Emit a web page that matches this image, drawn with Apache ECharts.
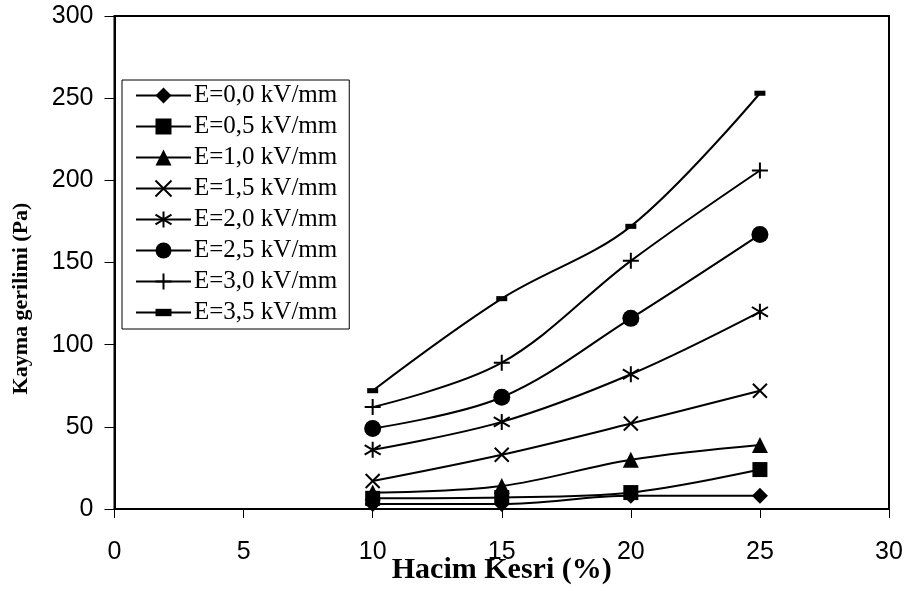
<!DOCTYPE html>
<html>
<head>
<meta charset="utf-8">
<script src="https://cdn.jsdelivr.net/npm/echarts@6/dist/echarts.min.js"></script>
<style>
  html, body { margin: 0; padding: 0; background: #fff; }
  #chart { width: 907px; height: 591px; }
</style>
</head>
<body>
<div id="chart"></div>
<script>
// volume fraction (%)
const hacimKesri = [10, 15, 20, 25];

const seriesNames = [
  "E=0,0 kV/mm", "E=0,5 kV/mm", "E=1,0 kV/mm", "E=1,5 kV/mm",
  "E=2,0 kV/mm", "E=2,5 kV/mm", "E=3,0 kV/mm", "E=3,5 kV/mm",
];

// shear stress (Pa)
const e00 = [3, 3, 8, 8];
const e05 = [6.5, 7, 10, 24];
const e10 = [10, 14, 30, 39];
const e15 = [17, 33, 52, 72];
const e20 = [36, 53, 82, 120];
const e25 = [49, 68, 116, 167];
const e30 = [62, 89, 151, 206];
const e35 = [72, 128, 172, 253];

const values = [e00, e05, e10, e15, e20, e25, e30, e35];

// the dash path carries two empty moves so its box stays square (legend draws it square)
const markers = [
  { symbol: "diamond", size: 16, stroke: false },
  { symbol: "rect", size: 15, stroke: false },
  { symbol: "triangle", size: 16, stroke: false },
  { symbol: "path://M0,0L10,10M10,0L0,10", size: 14, stroke: true },
  { symbol: "path://M5,0L5,10M0.8,2L9.2,8M0.8,8L9.2,2", size: 16, stroke: true },
  { symbol: "circle", size: 17, stroke: false },
  { symbol: "path://M5,0L5,10M0,5L10,5", size: 16, stroke: true },
  { symbol: "path://M0,0M10,10M0,2.7L10,2.7L10,7.3L0,7.3Z", size: 11, stroke: false },
];

const tickFont = "'Liberation Sans', Arial, sans-serif";
const serifFont = "'Liberation Serif', 'Times New Roman', serif";

const chart = echarts.init(document.getElementById("chart"));

const option = {
  animation: false,
  backgroundColor: "#fff",
  grid: {
    left: 114.5,
    right: 18,
    top: 16,
    bottom: 82,
    outerBoundsMode: "none",
    containLabel: false,
    show: true,
    borderColor: "#000",
    borderWidth: 2,
  },
  legend: {
    orient: "vertical",
    left: 122,
    top: 80,
    itemWidth: 55,
    itemHeight: 20,
    itemGap: 6,
    padding: [3, 12, 4, 13],
    borderColor: "#000",
    borderWidth: 1,
    backgroundColor: "#fff",
    textStyle: {
      fontFamily: serifFont,
      fontSize: 25,
      lineHeight: 20,
      color: "#000",
      padding: [0, 0, 0, -2],
    },
    data: seriesNames,
  },
  xAxis: {
    type: "value",
    min: 0,
    max: 30,
    interval: 5,
    name: "Hacim Kesri (%)",
    nameLocation: "middle",
    nameGap: 46,
    nameMoveOverlap: false,
    nameTextStyle: {
      fontFamily: serifFont,
      fontWeight: "bold",
      fontSize: 30,
      color: "#000",
    },
    axisLine: { lineStyle: { color: "#000", width: 2 } },
    axisTick: { lineStyle: { color: "#000", width: 1 }, length: 9 },
    axisLabel: {
      fontFamily: tickFont,
      fontSize: 25,
      color: "#000",
      margin: 31,
    },
    splitLine: { show: false },
  },
  yAxis: {
    type: "value",
    min: 0,
    max: 300,
    interval: 50,
    name: "Kayma gerilimi (Pa)",
    nameLocation: "middle",
    nameGap: 82,
    nameMoveOverlap: false,
    nameTextStyle: {
      fontFamily: serifFont,
      fontWeight: "bold",
      fontSize: 22,
      color: "#000",
      padding: [0, 72, 0, 0],
    },
    axisLine: { lineStyle: { color: "#000", width: 2 } },
    axisTick: { lineStyle: { color: "#000", width: 1 }, length: 10 },
    axisLabel: {
      fontFamily: tickFont,
      fontSize: 25,
      color: "#000",
      margin: 21,
    },
    splitLine: { show: false },
  },
  series: seriesNames.map((name, i) => ({
    name: name,
    type: "line",
    smooth: 0.35,
    data: hacimKesri.map((x, j) => [x, values[i][j]]),
    symbol: markers[i].symbol,
    symbolSize: markers[i].size,
    showAllSymbol: true,
    lineStyle: { color: "#000", width: 2 },
    itemStyle: {
      color: "#000",
      borderColor: "#000",
      borderWidth: markers[i].stroke ? 2 : 0,
    },
    emphasis: { disabled: true },
  })),
};

option && chart.setOption(option);
</script>
</body>
</html>
